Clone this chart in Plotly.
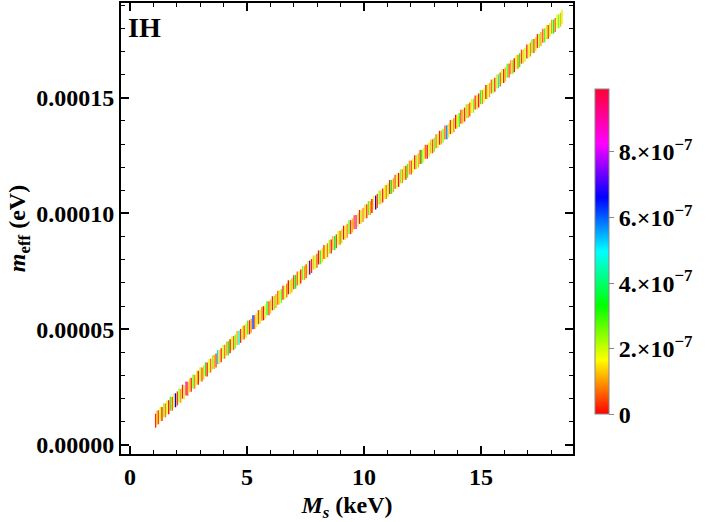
import plotly.graph_objects as go

# sterile neutrino mass M_s (keV)
ms = [
    1.10, 1.16, 1.22, 1.30, 1.37, 1.45, 1.52, 1.58, 1.66, 1.73,
    1.81, 1.88, 1.95, 2.03, 2.10, 2.17, 2.25, 2.32, 2.40, 2.47,
    2.55, 2.62, 2.70, 2.77, 2.85, 2.92, 3.00, 3.08, 3.15, 3.23,
    3.30, 3.38, 3.45, 3.53, 3.60, 3.68, 3.75, 3.83, 3.90, 3.98,
    4.05, 4.13, 4.20, 4.28, 4.35, 4.43, 4.50, 4.58, 4.66, 4.73,
    4.81, 4.88, 4.96, 5.03, 5.11, 5.18, 5.26, 5.33, 5.41, 5.49,
    5.56, 5.64, 5.71, 5.79, 5.86, 5.94, 6.01, 6.09, 6.17, 6.24,
    6.32, 6.39, 6.47, 6.54, 6.62, 6.70, 6.77, 6.85, 6.92, 7.00,
    7.08, 7.15, 7.23, 7.30, 7.38, 7.46, 7.53, 7.61, 7.68, 7.76,
    7.84, 7.91, 7.99, 8.06, 8.14, 8.22, 8.29, 8.37, 8.44, 8.52,
    8.60, 8.67, 8.75, 8.82, 8.90, 8.98, 9.05, 9.13, 9.20, 9.28,
    9.36, 9.43, 9.51, 9.58, 9.66, 9.74, 9.81, 9.89, 9.96, 10.04,
    10.12, 10.19, 10.27, 10.34, 10.42, 10.50, 10.57, 10.65, 10.72, 10.80,
    10.88, 10.95, 11.03, 11.10, 11.18, 11.26, 11.33, 11.41, 11.48, 11.56,
    11.64, 11.71, 11.79, 11.86, 11.94, 12.02, 12.09, 12.17, 12.24, 12.32,
    12.40, 12.47, 12.55, 12.62, 12.70, 12.78, 12.85, 12.93, 13.00, 13.08,
    13.16, 13.23, 13.31, 13.38, 13.46, 13.54, 13.61, 13.69, 13.76, 13.84,
    13.92, 13.99, 14.07, 14.14, 14.22, 14.30, 14.37, 14.45, 14.52, 14.60,
    14.68, 14.75, 14.83, 14.90, 14.98, 15.06, 15.13, 15.21, 15.28, 15.36,
    15.44, 15.51, 15.59, 15.66, 15.74, 15.82, 15.89, 15.97, 16.04, 16.12,
    16.20, 16.27, 16.35, 16.42, 16.50, 16.58, 16.65, 16.73, 16.80, 16.88,
    16.96, 17.03, 17.11, 17.18, 17.26, 17.34, 17.41, 17.49, 17.56, 17.64,
    17.72, 17.79, 17.87, 17.94, 18.02, 18.10, 18.17, 18.25, 18.32, 18.40,
    18.46,
]

# effective mass m_eff, in units of 1e-5 eV
meff_e5 = [
    1.05, 1.18, 1.20, 1.35, 1.34, 1.50, 1.49, 1.62, 1.63, 1.78,
    1.78, 1.92, 1.93, 2.01, 2.14, 2.12, 2.30, 2.28, 2.44, 2.43,
    2.58, 2.60, 2.74, 2.73, 2.89, 2.90, 3.05, 3.04, 3.13, 3.27,
    3.26, 3.41, 3.43, 3.57, 3.58, 3.65, 3.79, 3.80, 3.88, 4.02,
    4.03, 4.16, 4.18, 4.26, 4.39, 4.40, 4.47, 4.62, 4.63, 4.71,
    4.85, 4.86, 4.93, 5.07, 5.08, 5.15, 5.30, 5.31, 5.39, 5.52,
    5.54, 5.67, 5.69, 5.76, 5.90, 5.91, 5.98, 6.12, 6.14, 6.22,
    6.36, 6.37, 6.44, 6.58, 6.59, 6.67, 6.81, 6.82, 6.89, 7.03,
    7.05, 7.19, 7.20, 7.28, 7.42, 7.43, 7.50, 7.65, 7.66, 7.73,
    7.88, 7.89, 7.96, 8.10, 8.11, 8.19, 8.33, 8.34, 8.41, 8.56,
    8.57, 8.71, 8.72, 8.80, 8.94, 8.95, 9.02, 9.17, 9.18, 9.25,
    9.40, 9.41, 9.48, 9.62, 9.63, 9.71, 9.85, 9.86, 9.93, 10.08,
    10.09, 10.23, 10.24, 10.32, 10.46, 10.47, 10.54, 10.69, 10.70, 10.77,
    10.92, 10.93, 11.00, 11.14, 11.15, 11.23, 11.37, 11.38, 11.45, 11.60,
    11.61, 11.75, 11.76, 11.84, 11.98, 11.99, 12.06, 12.21, 12.22, 12.29,
    12.44, 12.45, 12.52, 12.66, 12.67, 12.75, 12.89, 12.90, 12.97, 13.12,
    13.13, 13.27, 13.28, 13.36, 13.50, 13.51, 13.58, 13.73, 13.74, 13.81,
    13.96, 13.97, 14.04, 14.18, 14.19, 14.27, 14.41, 14.42, 14.49, 14.64,
    14.65, 14.79, 14.80, 14.88, 15.02, 15.03, 15.10, 15.25, 15.26, 15.33,
    15.48, 15.49, 15.56, 15.70, 15.71, 15.79, 15.93, 15.94, 16.01, 16.16,
    16.17, 16.31, 16.32, 16.40, 16.54, 16.55, 16.62, 16.77, 16.78, 16.85,
    17.00, 17.01, 17.08, 17.22, 17.23, 17.31, 17.45, 17.46, 17.53, 17.68,
    17.69, 17.83, 17.84, 17.92, 18.06, 18.07, 18.14, 18.29, 18.30, 18.37,
    18.50,
]

# colour variable, in units of 1e-7
cval_e7 = [
    0.3, 1.2, 0.5, 1.8, 0.2, 2.4, 0.8, 1.5, 0.1, 2.9,
    0.6, 1.7, 6.6, 0.4, 2.2, 1.1, 0.2, 1.9, 8.8, 0.7,
    1.4, 0.3, 2.6, 0.9, 1.6, 0.1, 2.1, 0.5, 1.3, 3.1,
    0.2, 1.8, 0.7, 2.3, 1.0, 0.4, 5.2, 1.5, 0.3, 2.0,
    0.8, 1.2, 3.4, 0.1, 1.7, 0.6, 2.5, 1.1, 4.6, 0.3,
    1.9, 0.5, 1.4, 2.8, 0.2, 1.0, 6.3, 0.7, 1.6, 0.4,
    2.2, 0.9, 0.1, 1.8, 3.0, 0.5, 1.3, 0.2, 2.4, 1.1,
    0.6, 1.5, 2.7, 0.3, 1.9, 0.8, 0.1, 2.1, 1.2, 0.4,
    3.3, 0.7, 1.6, 0.2, 2.5, 1.0, 0.5, 1.8, 7.2, 0.3,
    1.3, 2.0, 0.6, 0.1, 2.9, 1.4, 0.4, 1.7, 0.8, 2.3,
    0.2, 1.1, 3.6, 0.5, 1.9, 0.7, 2.2, 0.1, 1.5, 0.9,
    2.6, 0.3, 1.2, 0.6, 8.4, 1.8, 0.2, 2.0, 0.9, 1.4,
    0.4, 2.7, 1.0, 0.1, 1.6, 6.8, 0.5, 2.3, 1.3, 0.3,
    1.7, 0.8, 2.1, 0.2, 3.2, 1.1, 0.6, 1.9, 0.1, 2.4,
    0.9, 1.4, 0.3, 2.8, 1.0, 0.5, 1.7, 0.2, 2.2, 1.2,
    0.4, 3.5, 1.6, 0.7, 0.1, 2.0, 1.3, 0.5, 2.6, 0.8,
    1.9, 0.2, 1.1, 2.4, 0.6, 5.8, 1.5, 0.3, 2.1, 0.9,
    0.1, 1.8, 2.9, 0.5, 1.2, 0.3, 2.3, 1.0, 0.6, 1.6,
    2.5, 0.4, 1.3, 0.2, 3.0, 0.9, 1.7, 0.1, 2.0, 1.1,
    0.7, 2.2, 0.3, 1.5, 4.2, 0.6, 1.9, 0.2, 1.2, 2.7,
    0.5, 1.0, 2.4, 0.1, 1.6, 0.8, 3.1, 0.4, 1.3, 2.0,
    0.2, 1.7, 0.9, 2.6, 0.5, 1.4, 0.3, 2.2, 1.1, 0.6,
    2.8, 1.5, 0.4, 2.1, 1.0, 3.3, 0.7, 1.8, 2.5, 1.2,
    2.0,
]

cbar_ticks = [0, 2e-7, 4e-7, 6e-7, 8e-7]
cbar_labels = ["<b>0</b>", "<b>2.\u00d710<sup>\u22127</sup></b>", "<b>4.\u00d710<sup>\u22127</sup></b>",
               "<b>6.\u00d710<sup>\u22127</sup></b>", "<b>8.\u00d710<sup>\u22127</sup></b>"]

meff = [v * 1e-5 for v in meff_e5]
cval = [v * 1e-7 for v in cval_e7]

# Mathematica-style Hue colour scale
hue = [
    [0.0, "#ff0000"], [1 / 6, "#ffff00"], [2 / 6, "#00ff00"], [3 / 6, "#00ffff"],
    [4 / 6, "#0000ff"], [5 / 6, "#ff00ff"], [1.0, "#ff0033"],
]

font = "Liberation Serif"

fig = go.Figure()
fig.add_trace(go.Scatter(
    x=ms, y=meff, mode="markers",
    marker=dict(
        symbol="line-ns-open", size=10, line=dict(width=1.4),
        color=cval, colorscale=hue, cmin=0, cmax=9.9e-7, showscale=True,
        colorbar=dict(
            x=1.049, xanchor="left", xpad=0, y=0.448, yanchor="middle",
            len=0.72, lenmode="fraction", thickness=14, ypad=0,
            outlinewidth=1, outlinecolor="#888888",
            tickvals=cbar_ticks, ticktext=cbar_labels,
            ticks="outside", ticklen=5, tickcolor="#888888",
            tickfont=dict(family=font, size=24, color="black"),
        ),
    ),
    hoverinfo="x+y",
))

axis_common = dict(
    showline=True, linewidth=2, linecolor="black", mirror="ticks",
    ticks="inside", ticklen=8, tickwidth=2, tickcolor="black",
    showgrid=False, zeroline=False,
    tickfont=dict(family=font, size=24, color="black", weight="bold"),
)

fig.update_layout(
    width=713, height=522,
    margin=dict(l=121, r=140, t=1, b=68),
    paper_bgcolor="white", plot_bgcolor="white",
    showlegend=False,
    xaxis=dict(
        range=[-0.38, 18.93], tickvals=[0, 5, 10, 15],
        minor=dict(dtick=1, ticks="inside", ticklen=4, tickcolor="black", tickwidth=1),
        title=dict(text="<b><i>M<sub>s</sub></i> (keV)</b>", standoff=8,
                   font=dict(family=font, size=24, color="black")),
        **axis_common,
    ),
    yaxis=dict(
        range=[-3.9e-6, 1.909e-4], tickvals=[0, 5e-5, 1e-4, 1.5e-4],
        ticktext=["0.00000", "0.00005", "0.00010", "0.00015"],
        minor=dict(dtick=1e-5, ticks="inside", ticklen=4, tickcolor="black", tickwidth=1),
        title=dict(text="<b><i>m</i><sub>eff</sub> (eV)</b>", standoff=4,
                   font=dict(family=font, size=24, color="black")),
        **axis_common,
    ),
    font=dict(family=font, color="black"),
)

fig.add_annotation(
    text="<b>IH</b>", xref="paper", yref="paper", x=0.012, y=0.985,
    xanchor="left", yanchor="top", showarrow=False,
    font=dict(family=font, size=28, color="black"),
)

fig.write_html("out.html", config={"displayModeBar": False},
               post_script="document.body.style.margin='0';")
